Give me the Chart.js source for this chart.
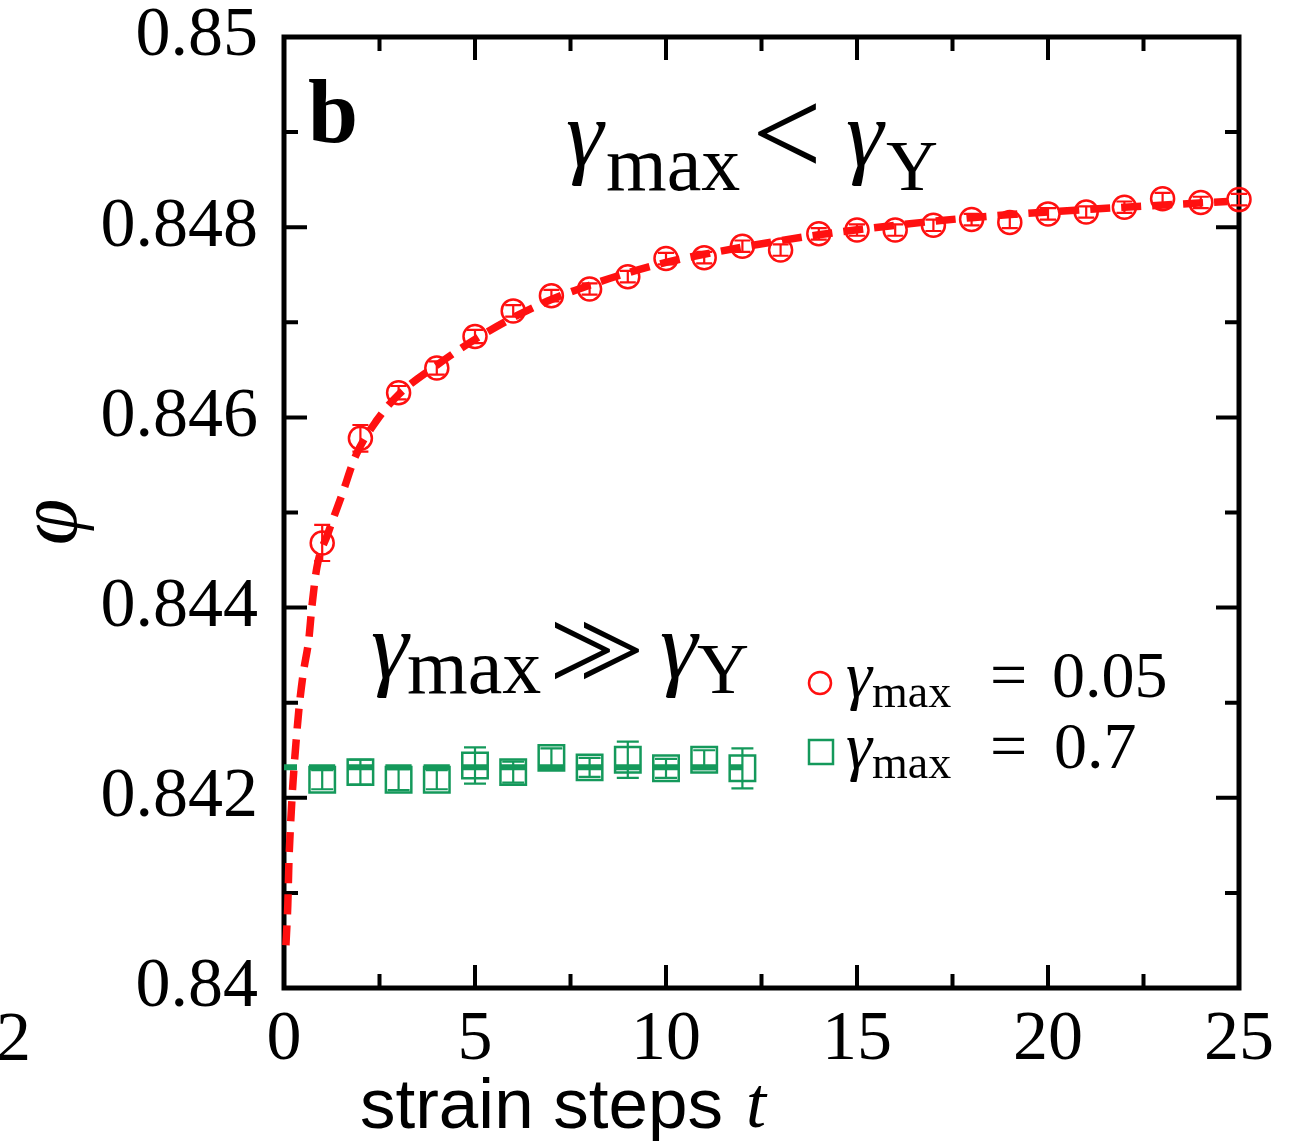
<!DOCTYPE html>
<html>
<head>
<meta charset="utf-8">
<script src="https://cdn.jsdelivr.net/npm/chart.js@4.4.0/dist/chart.umd.min.js"></script>
<style>
  html, body { margin: 0; padding: 0; background: #fff; }
  #wrap { width: 1298px; height: 1141px; }
</style>
</head>
<body>
<div id="wrap"><canvas id="chart" width="1298" height="1141"></canvas></div>
<script>
// ---- Data ----
const stepsLow = [1, 2, 3, 4, 5, 6, 7, 8, 9, 10, 11, 12, 13, 14, 15, 16, 17, 18, 19, 20, 21, 22, 23, 24, 25];
const phiLow = [0.84468, 0.84578, 0.84626, 0.84652, 0.84685, 0.84712, 0.84728, 0.84735, 0.84748, 0.84767,
                0.84768, 0.84780, 0.84776, 0.84793, 0.84797, 0.84797, 0.84802, 0.84808, 0.84805, 0.84814,
                0.84816, 0.84821, 0.84830, 0.84826, 0.84829];
const errLow = [0.00019, 0.00014, 0.00007, 0.00007, 0.00007, 0.00006, 0.00006, 0.00006, 0.00006, 0.00006,
                0.00006, 0.00006, 0.00006, 0.00006, 0.00006, 0.00006, 0.00006, 0.00006, 0.00006, 0.00006,
                0.00006, 0.00006, 0.00006, 0.00006, 0.00006];

const stepsHigh = [1, 2, 3, 4, 5, 6, 7, 8, 9, 10, 11, 12];
const phiHigh = [0.84219, 0.84227, 0.84219, 0.84219, 0.84234, 0.84227, 0.84242, 0.84232, 0.84240, 0.84231, 0.84240, 0.84231];
const errHigh = [0.00010, 0.00013, 0.00011, 0.00010, 0.00019, 0.00011, 0.00010, 0.00010, 0.00019, 0.00010, 0.00010, 0.00021];

const fitLowT = [0.05, 0.10, 0.13, 0.18, 0.24, 0.31, 0.39, 0.50, 0.65, 0.73, 0.86, 1.15, 1.52, 1.88, 2.43,
                 3, 4, 5, 6, 7, 8, 9, 10, 12, 14, 16, 18, 20, 22, 24.7];
const fitLowPhi = [0.84045, 0.84088, 0.84134, 0.84178, 0.84219, 0.84256, 0.84293, 0.84330, 0.84367, 0.84401,
                   0.84442, 0.84478, 0.84519, 0.84560, 0.84597,
                   0.84624, 0.84655, 0.84682, 0.84705, 0.84724, 0.84739, 0.84752, 0.84763, 0.84779, 0.84792,
                   0.84802, 0.84810, 0.84816, 0.84821, 0.84827];

const fitHighT = [0, 12];
const fitHighPhi = [0.84232, 0.84232];

const xMajor = [0, 5, 10, 15, 20, 25];
const xMinor = [2.5, 7.5, 12.5, 17.5, 22.5];
const yMajor = [0.84, 0.842, 0.844, 0.846, 0.848, 0.85];
const yMinor = [0.841, 0.843, 0.845, 0.847, 0.849];

const RED = '#ff1010';
const GREEN = '#14995b';
const SERIF = '"Liberation Serif", "DejaVu Serif", serif';

const toPts = (xs, ys) => xs.map((x, i) => ({ x: x, y: ys[i] }));

// ---- Plugins ----
const frameTicks = {
  id: 'frameTicks',
  beforeDatasetsDraw(chart) {
    const { ctx, chartArea: a, scales: { x, y } } = chart;
    ctx.save();
    ctx.strokeStyle = '#000';
    ctx.lineWidth = 4;
    ctx.beginPath();
    const tickX = (v, len) => {
      const px = x.getPixelForValue(v);
      ctx.moveTo(px, a.bottom); ctx.lineTo(px, a.bottom - len);
      ctx.moveTo(px, a.top); ctx.lineTo(px, a.top + len);
    };
    const tickY = (v, len) => {
      const py = y.getPixelForValue(v);
      ctx.moveTo(a.left, py); ctx.lineTo(a.left + len, py);
      ctx.moveTo(a.right, py); ctx.lineTo(a.right - len, py);
    };
    xMajor.forEach(v => tickX(v, 23));
    xMinor.forEach(v => tickX(v, 14));
    yMajor.forEach(v => tickY(v, 23));
    yMinor.forEach(v => tickY(v, 14));
    ctx.stroke();
    ctx.lineWidth = 5;
    ctx.strokeRect(a.left, a.top, a.right - a.left, a.bottom - a.top);
    ctx.restore();
  }
};

const errorBars = {
  id: 'errorBars',
  afterDatasetsDraw(chart) {
    const { ctx, scales: { x, y } } = chart;
    const draw = (xs, ys, es, color, cap) => {
      ctx.save();
      ctx.strokeStyle = color;
      ctx.lineWidth = 2.2;
      ctx.beginPath();
      xs.forEach((t, i) => {
        const px = x.getPixelForValue(t);
        const top = y.getPixelForValue(ys[i] + es[i]);
        const bot = y.getPixelForValue(ys[i] - es[i]);
        ctx.moveTo(px, top); ctx.lineTo(px, bot);
        ctx.moveTo(px - cap, top); ctx.lineTo(px + cap, top);
        ctx.moveTo(px - cap, bot); ctx.lineTo(px + cap, bot);
      });
      ctx.stroke();
      ctx.restore();
    };
    draw(stepsLow, phiLow, errLow, RED, 8);
    draw(stepsHigh, phiHigh, errHigh, GREEN, 11);
  }
};

function text(ctx, str, x, y, font, align) {
  ctx.font = font;
  ctx.textAlign = align || 'left';
  ctx.fillText(str, x, y);
}

const labels = {
  id: 'labels',
  afterDraw(chart) {
    const ctx = chart.ctx;
    ctx.save();
    ctx.fillStyle = '#000';
    ctx.textBaseline = 'alphabetic';

    // panel letter
    text(ctx, 'b', 308, 142, 'bold 90px ' + SERIF);

    // top annotation
    text(ctx, 'γ', 566, 166, 'italic 95px ' + SERIF);
    text(ctx, 'max', 606, 190, '78px ' + SERIF);
    text(ctx, '<', 752, 175, '124px ' + SERIF);
    text(ctx, 'γ', 846, 166, 'italic 95px ' + SERIF);
    text(ctx, 'Y', 886, 190, '72px ' + SERIF);

    // lower annotation
    text(ctx, 'γ', 371, 678, 'italic 95px ' + SERIF);
    text(ctx, 'max', 407, 693, '78px ' + SERIF);
    text(ctx, '>', 549, 690, '118px ' + SERIF);
    text(ctx, '>', 578, 690, '118px ' + SERIF);
    text(ctx, 'γ', 660, 678, 'italic 95px ' + SERIF);
    text(ctx, 'Y', 697, 693, '72px ' + SERIF);

    // legend
    ctx.lineWidth = 2.5;
    ctx.strokeStyle = RED;
    ctx.beginPath();
    ctx.arc(820, 683, 11, 0, Math.PI * 2);
    ctx.stroke();
    ctx.strokeStyle = GREEN;
    ctx.strokeRect(809, 740, 24, 24);
    text(ctx, 'γ', 846, 697, 'italic 66px ' + SERIF);
    text(ctx, 'max', 872, 707, '46px ' + SERIF);
    text(ctx, '=', 990, 697, '66px ' + SERIF);
    text(ctx, '0.05', 1052, 697, '66px ' + SERIF);
    text(ctx, 'γ', 846, 768, 'italic 66px ' + SERIF);
    text(ctx, 'max', 872, 778, '46px ' + SERIF);
    text(ctx, '=', 990, 768, '66px ' + SERIF);
    text(ctx, '0.7', 1054, 768, '66px ' + SERIF);

    // axis titles
    text(ctx, 'strain steps', 360, 1128, '71px "Liberation Sans", Arial, sans-serif');
    text(ctx, 't', 746, 1127, 'italic 72px ' + SERIF);
    ctx.save();
    ctx.translate(76, 522);
    ctx.rotate(-Math.PI / 2);
    text(ctx, 'φ', 0, 0, 'italic 84px ' + SERIF, 'center');
    ctx.restore();

    // edge of neighbouring panel
    text(ctx, '2', -4, 1060, '70px ' + SERIF);
    ctx.restore();
  }
};

// ---- Chart ----
new Chart(document.getElementById('chart'), {
  type: 'scatter',
  data: {
    datasets: [
      {
        data: toPts(fitLowT, fitLowPhi),
        showLine: true,
        borderColor: RED,
        borderWidth: 7.5,
        borderDash: [20, 11],
        pointRadius: 0,
        cubicInterpolationMode: 'monotone',
        clip: false
      },
      {
        // dash period = one strain step, so the gaps sit between the squares
        data: toPts(fitHighT, fitHighPhi),
        showLine: true,
        borderColor: GREEN,
        borderWidth: 6,
        borderDash: [26.2, 12],
        borderDashOffset: 13.2,
        pointRadius: 0,
        clip: false
      },
      {
        data: toPts(stepsLow, phiLow),
        pointStyle: 'circle',
        pointRadius: 11.5,
        borderWidth: 2.5,
        borderColor: RED,
        backgroundColor: 'rgba(0,0,0,0)',
        clip: false
      },
      {
        data: toPts(stepsHigh, phiHigh),
        pointStyle: 'rect',
        pointRadius: 18,
        borderWidth: 2.5,
        borderColor: GREEN,
        backgroundColor: 'rgba(0,0,0,0)',
        clip: false
      }
    ]
  },
  options: {
    responsive: false,
    animation: false,
    events: [],
    layout: { padding: { left: 0, top: 37, right: 59, bottom: 0 } },
    plugins: { legend: { display: false }, tooltip: { enabled: false } },
    scales: {
      x: {
        type: 'linear',
        min: 0,
        max: 25,
        afterBuildTicks: s => { s.ticks = xMajor.map(v => ({ value: v })); },
        afterFit: s => { s.height = 153; },
        grid: { display: false, drawTicks: false },
        border: { display: false },
        ticks: {
          color: '#000',
          padding: 18,
          maxRotation: 0,
          font: { family: SERIF, size: 70, lineHeight: 1 }
        }
      },
      y: {
        type: 'linear',
        min: 0.84,
        max: 0.85,
        afterBuildTicks: s => { s.ticks = yMajor.map(v => ({ value: v })); },
        afterFit: s => { s.width = 284; s.paddingTop = 0; s.paddingBottom = 0; },
        grid: { display: false, drawTicks: false },
        border: { display: false },
        ticks: {
          color: '#000',
          padding: 26,
          font: { family: SERIF, size: 70, lineHeight: 1 },
          callback: v => String(Number(v.toFixed(3)))
        }
      }
    }
  },
  plugins: [frameTicks, errorBars, labels]
});
</script>
</body>
</html>
